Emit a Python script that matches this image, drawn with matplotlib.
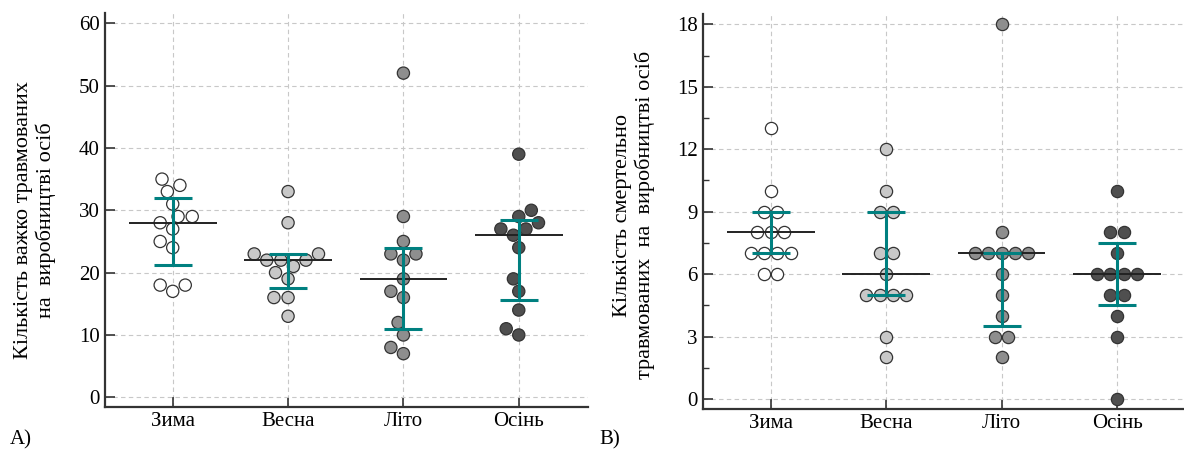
import numpy as np
import pandas as pd
import matplotlib
matplotlib.use("Agg")
import matplotlib.pyplot as plt
import seaborn as sns
from matplotlib.ticker import MultipleLocator

# seasons
seasons = ['Зима', 'Весна', 'Літо', 'Осінь']

# A) severely injured
heavy_zyma = [35, 34, 33, 31, 29, 29, 28, 27, 25, 24, 18, 18, 17]
heavy_vesna = [33, 28, 23, 23, 22, 22, 22, 21, 20, 19, 16, 16, 13]
heavy_lito = [52, 29, 25, 23, 23, 22, 19, 17, 16, 12, 10, 8, 7]
heavy_osin = [39, 30, 29, 28, 27, 27, 26, 24, 19, 17, 14, 11, 10]
heavy_median = [28, 22, 19, 26]
heavy_low = [21.2, 17.6, 11.0, 15.6]
heavy_high = [31.9, 23.0, 23.9, 28.4]

# B) fatally injured
fatal_zyma = [13, 10, 9, 9, 8, 8, 8, 7, 7, 7, 7, 6, 6]
fatal_vesna = [12, 10, 9, 9, 7, 7, 6, 5, 5, 5, 5, 3, 2]
fatal_lito = [18, 8, 7, 7, 7, 7, 7, 6, 5, 4, 3, 3, 2]
fatal_osin = [10, 8, 8, 7, 6, 6, 6, 6, 5, 5, 4, 3, 0]
fatal_median = [8, 6, 7, 6]
fatal_low = [7, 5, 3.5, 4.5]
fatal_high = [9, 9, 7, 7.5]

face_colors = ['#ffffff', '#c8c8c8', '#8e8e8e', '#4f4f4f']
teal = '#008080'
dot_size = 8.8      # marker diameter, points
dot_step = 0.1155   # horizontal spacing of tied dots, category units

plt.rcParams['font.family'] = ['Liberation Serif', 'DejaVu Serif']
plt.rcParams['font.size'] = 15


def make_frame(groups):
    rows = []
    for name, vals in zip(seasons, groups):
        for v in vals:
            rows.append((name, v))
    return pd.DataFrame(rows, columns=['season', 'value'])


def tie_offsets(vals):
    # equal values are spread symmetrically around the category centre
    vals = np.asarray(vals, dtype=float)
    offs = np.zeros(len(vals))
    for v in np.unique(vals):
        idx = np.where(vals == v)[0]
        k = len(idx)
        offs[idx] = (np.arange(k) - (k - 1) / 2) * dot_step
    return offs


def style_panel(ax, med, lo, hi):
    ax.grid(True, axis='both', linestyle=(0, (4, 3)), color='#c8c8c8', linewidth=0.8, zorder=0)
    ax.set_axisbelow(True)
    for i in range(len(seasons)):
        ax.hlines(med[i], i - 0.38, i + 0.38, color='#222222', linewidth=1.4, zorder=5)
        ax.errorbar(i, med[i], yerr=[[med[i] - lo[i]], [hi[i] - med[i]]],
                    color=teal, linewidth=2.2, capsize=13.5, capthick=2.2, zorder=6)
    for side in ['top', 'right']:
        ax.spines[side].set_visible(False)
    for side in ['left', 'bottom']:
        ax.spines[side].set_color('#333333')
        ax.spines[side].set_linewidth(1.6)
    ax.tick_params(direction='in', length=7, width=1.2, color='#333333')
    ax.tick_params(which='minor', direction='in', length=4, width=1.0, color='#333333')
    ax.set_xlabel('')


fig = plt.figure(figsize=(11.84, 4.5), dpi=100)
ax1 = fig.add_axes([0.0884, 0.0949, 0.4082, 0.877])
ax2 = fig.add_axes([0.5935, 0.0911, 0.4055, 0.878])

# panel A - beeswarm
df_a = make_frame([heavy_zyma, heavy_vesna, heavy_lito, heavy_osin])
sns.swarmplot(data=df_a, x='season', y='value', hue='season', order=seasons,
              palette=dict(zip(seasons, face_colors)), size=dot_size,
              edgecolor='#333333', linewidth=0.9, legend=False, ax=ax1, zorder=3)
style_panel(ax1, heavy_median, heavy_low, heavy_high)
ax1.set_xlim(-0.59, 3.6)
ax1.set_ylim(-1.6, 61.7)
ax1.yaxis.set_major_locator(MultipleLocator(10))
ax1.set_ylabel('Кількість важко травмованих\nна  виробництві осіб', fontsize=16)
ax1.yaxis.set_label_coords(-0.10, 0.475)

# panel B - tied values spread side by side
for i, vals in enumerate([fatal_zyma, fatal_vesna, fatal_lito, fatal_osin]):
    ax2.scatter(i + tie_offsets(vals), vals, s=dot_size ** 2, color=face_colors[i],
                edgecolors='#333333', linewidths=0.9, zorder=3)
style_panel(ax2, fatal_median, fatal_low, fatal_high)
ax2.set_xticks(range(len(seasons)))
ax2.set_xticklabels(seasons)
ax2.set_xlim(-0.59, 3.57)
ax2.set_ylim(-0.48, 18.5)
ax2.yaxis.set_major_locator(MultipleLocator(3))
ax2.yaxis.set_minor_locator(MultipleLocator(1.5))
ax2.set_ylabel('Кількість смертельно\nтравмованих  на  виробництві осіб', fontsize=16)
ax2.yaxis.set_label_coords(-0.099, 0.49)

fig.text(0.008, 0.012, 'A)', fontsize=15)
fig.text(0.506, 0.012, 'B)', fontsize=15)

fig.savefig('out.png', dpi=100)
